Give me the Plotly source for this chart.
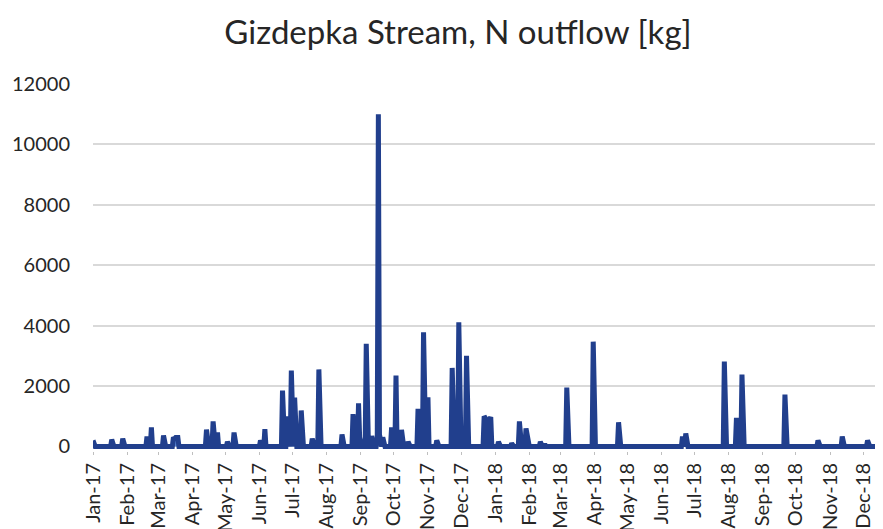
import datetime as dt
import plotly.graph_objects as go

# Days with non-zero N outflow (all other days read as ~0 kg)
event_dates = [
    "2017-01-01", "2017-01-18", "2017-01-28", "2017-02-19", "2017-02-23",
    "2017-03-06", "2017-03-15", "2017-03-16", "2017-03-17", "2017-03-18", "2017-03-19",
    "2017-04-14", "2017-04-20", "2017-04-24", "2017-05-03", "2017-05-09",
    "2017-06-02", "2017-06-06", "2017-06-22", "2017-06-23", "2017-06-26", "2017-06-27",
    "2017-06-30", "2017-07-03", "2017-07-04", "2017-07-09", "2017-07-19", "2017-07-25",
    "2017-08-15", "2017-08-25", "2017-08-26", "2017-08-30", "2017-08-31", "2017-09-06",
    "2017-09-11", "2017-09-16", "2017-09-17", "2017-09-18", "2017-09-21", "2017-09-29",
    "2017-10-03", "2017-10-08", "2017-10-14", "2017-10-23", "2017-10-28", "2017-11-01",
    "2017-11-09", "2017-11-23", "2017-11-24", "2017-11-29", "2017-11-30", "2017-12-06",
    "2017-12-22", "2017-12-23", "2017-12-27", "2017-12-28",
    "2018-01-04", "2018-01-16", "2018-01-23", "2018-01-29", "2018-01-30", "2018-02-11",
    "2018-02-15", "2018-03-07", "2018-03-31", "2018-04-23", "2018-06-20", "2018-06-23",
    "2018-07-28", "2018-08-08", "2018-08-13", "2018-09-21", "2018-10-21", "2018-11-12",
    "2018-12-05", "2018-12-18", "2018-12-19", "2018-12-20",
]
event_values = [
    200, 230, 260, 330, 630,
    360, 300, 260, 300, 280, 300,
    560, 830, 460, 150, 460,
    200, 570, 1850, 400, 1000, 500,
    2510, 1620, 500, 1190, 260, 2550,
    400, 1070, 500, 1430, 300, 3400,
    350, 300, 11000, 400, 300, 630,
    2350, 550, 150, 1250, 3780, 1630,
    200, 2600, 500, 4110, 500, 3000,
    1000, 950, 900, 970,
    150, 100, 830, 600, 300, 150,
    80, 1950, 3470, 800, 330, 430,
    2810, 950, 2380, 1720, 200, 330,
    200, 300, 790, 800,
]

y_ticks = [0, 2000, 4000, 6000, 8000, 10000, 12000]
tick_vals = [f"{y}-{m:02d}-01" for y in (2017, 2018) for m in range(1, 13)]
tick_text = [dt.date(int(v[:4]), int(v[5:7]), 1).strftime("%b-%y") for v in tick_vals]

# build the daily series
start = dt.date(2017, 1, 1)
end = dt.date(2018, 12, 31)
lookup = dict(zip(event_dates, event_values))
days, vals = [], []
d = start
while d <= end:
    s = d.isoformat()
    days.append(s)
    vals.append(lookup.get(s, 0))
    d += dt.timedelta(days=1)

W, H = 875, 521
fig = go.Figure()
fig.add_trace(go.Scatter(
    x=days, y=vals, mode="lines",
    line=dict(color="#213F8D", width=5, shape="linear"),
    fill="tozeroy", fillcolor="#5580D0",
    hoverinfo="x+y",
))

font_family = "Lato, 'Open Sans', sans-serif"
fig.update_layout(
    width=W, height=H,
    template="none",
    paper_bgcolor="white", plot_bgcolor="white",
    margin=dict(l=85, r=0, t=76, b=77.5),
    showlegend=False,
    title=dict(text="Gizdepka Stream, N outflow [kg]", x=450 / W, xanchor="center",
               xref="container", yref="container",
               y=1 - 24 / H, yanchor="middle",
               font=dict(family=font_family, size=33, color="#262626")),
    font=dict(family=font_family, color="#262626"),
)
fig.update_xaxes(
    type="date", range=["2017-01-01", "2018-12-19"],
    tickmode="array", tickvals=tick_vals, ticktext=tick_text,
    tickangle=-90, tickfont=dict(size=20, color="#262626"),
    ticks="outside", ticklen=3, tickcolor="#BFBFBF",
    showgrid=False, showline=False, zeroline=False, automargin=False,
)
fig.update_yaxes(
    range=[-150, 12000], tickmode="array", tickvals=y_ticks,
    ticktext=[str(v) for v in y_ticks],
    tickfont=dict(size=20, color="#262626"),
    showgrid=True, gridcolor="#D9D9D9", gridwidth=1.5,
    zeroline=False, showline=False, ticks="", ticklabelstandoff=22,
    automargin=False,
)

fig.write_html("out.html")
